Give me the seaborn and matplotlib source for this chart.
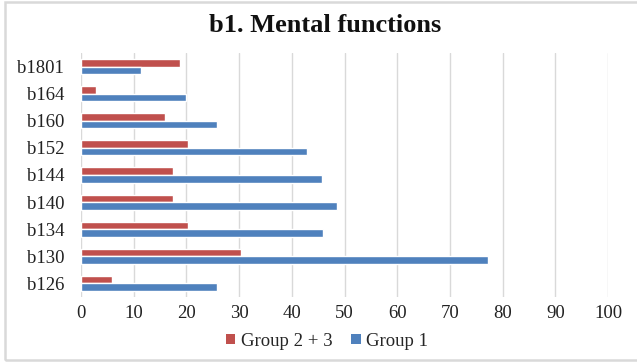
import numpy as np
import pandas as pd
import matplotlib
matplotlib.use("Agg")
import matplotlib.pyplot as plt
from matplotlib.patches import Rectangle
import seaborn as sns

categories = ["b1801", "b164", "b160", "b152", "b144", "b140", "b134", "b130", "b126"]
group_23 = [18.8, 2.8, 16.0, 20.3, 17.4, 17.4, 20.3, 30.4, 5.8]
group_1 = [11.4, 19.9, 25.8, 42.9, 45.8, 48.6, 45.9, 77.2, 25.8]
series_names = ["Group 2 + 3", "Group 1"]
series_colors = ["#C0504D", "#4F81BD"]
x_ticks = [0, 10, 20, 30, 40, 50, 60, 70, 80, 90, 100]

df = pd.DataFrame({
    "code": categories * 2,
    "value": group_23 + group_1,
    "group": [series_names[0]] * len(categories) + [series_names[1]] * len(categories),
})

sns.set_theme(style="white")
plt.rcParams["font.family"] = ["Liberation Serif", "DejaVu Serif"]

fig = plt.figure(figsize=(6.37, 3.62), dpi=100)
ax = fig.add_axes([81 / 637, 1 - 297 / 362, (608 - 81) / 637, (297 - 53) / 362])

sns.barplot(
    data=df, y="code", x="value", hue="group",
    order=categories, hue_order=series_names,
    palette=series_colors, width=0.56, orient="h",
    saturation=1, ax=ax, legend=False,
)

ax.set_xlim(0, 100)
ax.set_ylim(8.5, -0.5)
ax.set_xticks(x_ticks)
ax.set_xticklabels([str(t) for t in x_ticks], fontsize=13.5, color="#222222")
ax.tick_params(axis="y", labelsize=13.5, labelcolor="#222222", length=0, pad=12)
ax.tick_params(axis="x", length=0, pad=6)
ax.set_xlabel("")
ax.set_ylabel("")
ax.xaxis.grid(True, color="#D9D9D9", linewidth=1)
ax.set_axisbelow(True)
for s in ax.spines.values():
    s.set_visible(False)

fig.text(325 / 637, 1 - 25 / 362, "b1. Mental functions", ha="center", va="center",
         fontsize=19, fontweight="bold", color="#111111")

handles = [Rectangle((0, 0), 1, 1, facecolor=c, edgecolor="none") for c in series_colors]
fig.legend(handles, series_names, loc="center", bbox_to_anchor=(327 / 637, 1 - 341 / 362),
           ncol=2, frameon=False, fontsize=13.5, handlelength=0.5, handleheight=0.5,
           handletextpad=0.3, columnspacing=1.0)

# chart-area border
fig.patches.append(Rectangle((5 / 637, 1 - 360 / 362), 1.0, (360 - 2) / 362,
                             transform=fig.transFigure, fill=False,
                             edgecolor="#D9D9D9", linewidth=1.8))

fig.savefig("out.png", dpi=100, facecolor="white")
